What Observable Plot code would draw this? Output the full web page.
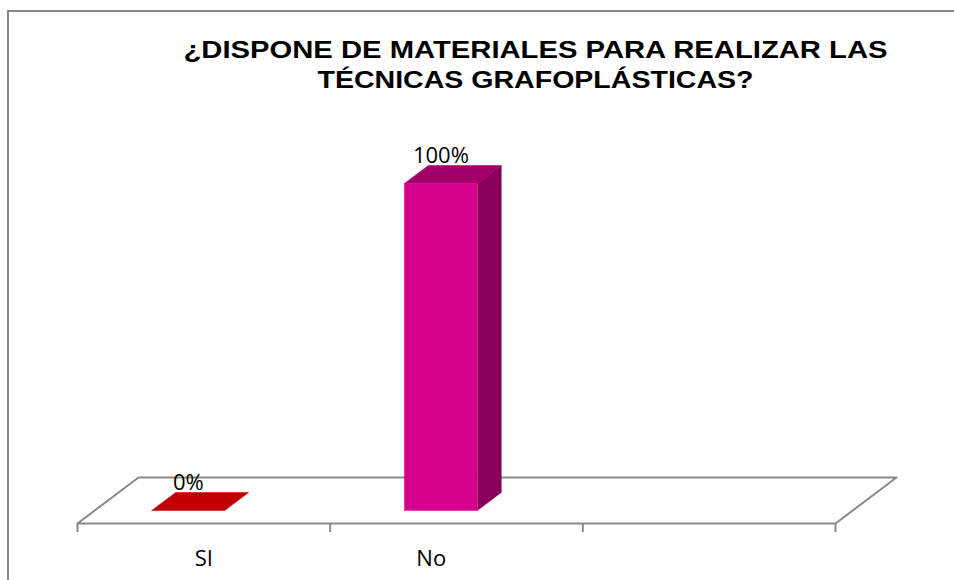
<!DOCTYPE html>
<html>
<head>
<meta charset="utf-8">
<script src="https://cdn.jsdelivr.net/npm/d3@7"></script>
<script src="https://cdn.jsdelivr.net/npm/@observablehq/plot@0.6"></script>
<style>
  body { margin: 0; background: #ffffff; }
  #wrap { position: relative; width: 954px; height: 580px; overflow: hidden; background: #fff; }
  #wrap svg { display: block; }
  #border { position: absolute; left: 7px; top: 10px; right: -20px; bottom: -20px;
            border-left: 2px solid #878787; border-top: 2px solid #878787; pointer-events: none; }
</style>
</head>
<body>
<div id="wrap"><div id="border"></div></div>
<script>
// ---- data ----
const titleLines = ["¿DISPONE DE MATERIALES PARA REALIZAR LAS", "TÉCNICAS GRAFOPLÁSTICAS?"];
const categories = ["SI", "No", ""];
const values = [0, 1];            // share of answers
const valueLabels = ["0%", "100%"];

// ---- styles ----
const frontColors = ["#C00000", "#D6008F"];
const topColors   = ["#C00000", "#A1006B"];
const sideColors  = ["#8C0000", "#86005A"];
const gridGrey = "#898989";

// ---- layout ----
const W = 954, H = 580;
const mL = 77, mR = 119, mB = 57;
const yRange = [523, 196];
const DEPTH_X = 61, DEPTH_Y = 46;       // floor depth in px
const BAR_X0 = 0.2256, BAR_X1 = 0.5145; // bar span inside a category band
const BAR_D0 = 0.283, BAR_D1 = 0.674;   // bar span in depth
const LABEL_SKEW = 0.1;                 // perspective drift of category labels

const nCat = categories.length;
const ux = (W - mL - mR) / nCat;
const uy = yRange[0] - yRange[1];
const P = (c, v, d) => ({x: c + d * DEPTH_X / ux, y: v + d * DEPTH_Y / uy});

// floor
const floor = [P(0,0,0), P(nCat,0,0), P(nCat,0,1), P(0,0,1), P(0,0,0)];

// bar faces
const faces = [];
values.forEach((v, i) => {
  const x0 = i + BAR_X0, x1 = i + BAR_X1;
  const add = (id, color, pts) => pts.forEach(p => faces.push({id, color, ...p}));
  if (v > 0) {
    add(`side${i}`, sideColors[i], [P(x1,0,BAR_D0), P(x1,0,BAR_D1), P(x1,v,BAR_D1), P(x1,v,BAR_D0)]);
  }
  add(`top${i}`, topColors[i], [P(x0,v,BAR_D0), P(x1,v,BAR_D0), P(x1,v,BAR_D1), P(x0,v,BAR_D1), P(x0,v,BAR_D0)]);
  if (v > 0) {
    add(`front${i}`, frontColors[i], [P(x0,0,BAR_D0), P(x1,0,BAR_D0), P(x1,v,BAR_D0), P(x0,v,BAR_D0), P(x0,0,BAR_D0)]);
  }
});

const labelPts = values.map((v, i) => ({...P(i + (BAR_X0 + BAR_X1) / 2, v, BAR_D0), label: valueLabels[i]}));

const plot = Plot.plot({
  width: W, height: H,
  marginLeft: mL, marginRight: mR, marginBottom: mB, marginTop: 0,
  x: {domain: [0, nCat], axis: null},
  y: {domain: [0, 1], range: yRange, axis: null},
  color: {type: "identity"},
  style: {background: "transparent", overflow: "visible"},
  marks: [
    // title
    Plot.text([titleLines[0]], {frameAnchor: "top", dx: 79, dy: 40, fontSize: 24, fontWeight: "bold",
      fontFamily: "Liberation Sans, Arial, sans-serif", fill: "#000"}),
    Plot.text([titleLines[1]], {frameAnchor: "top", dx: 79, dy: 70, fontSize: 24, fontWeight: "bold",
      fontFamily: "Liberation Sans, Arial, sans-serif", fill: "#000"}),
    // floor
    Plot.line(floor, {x: "x", y: "y", stroke: gridGrey, strokeWidth: 2, fill: "white", curve: "linear"}),
    // ticks
    Plot.axisX({ticks: d3.range(nCat + 1), tickSize: 9, tickFormat: () => "", label: null,
      stroke: gridGrey, strokeWidth: 2, strokeOpacity: 1}),
    // bars
    Plot.line(faces, {x: "x", y: "y", z: "id", fill: "color", stroke: "color", strokeWidth: 0.5, curve: "linear"}),
    // value labels
    Plot.text(labelPts, {x: "x", y: "y", text: "label", dy: -28, fontSize: 22,
      fontFamily: "Open Sans, sans-serif", fill: "#000"}),
    // category labels
    Plot.text(categories, {x: (d, i) => i + 0.5 - i * LABEL_SKEW, y: () => 0, text: d => d, dy: 35, fontSize: 22,
      fontFamily: "Open Sans, sans-serif", fill: "#000"})
  ]
});

// match the wide title lettering of the reference
const titleWidths = [704, 436];
d3.select(plot).selectAll("text").each(function() {
  const k = titleLines.indexOf(this.textContent);
  if (k >= 0) d3.select(this).attr("textLength", titleWidths[k]).attr("lengthAdjust", "spacingAndGlyphs");
});

document.getElementById("wrap").prepend(plot);
</script>
</body>
</html>
